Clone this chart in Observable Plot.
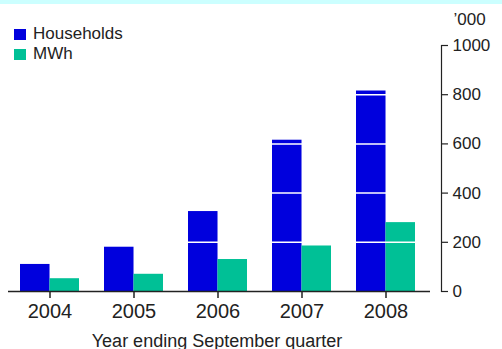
<!DOCTYPE html>
<html>
<head>
<meta charset="utf-8">
<script src="https://cdn.jsdelivr.net/npm/d3@7"></script>
<script src="https://cdn.jsdelivr.net/npm/@observablehq/plot@0.6"></script>
<style>
  html, body { margin: 0; padding: 0; background: white; }
  #chart { position: relative; width: 502px; height: 349px; border-top: 4px solid #ccffff; box-sizing: border-box; }
  #chart svg { display: block; }
  #legend { position: absolute; left: 14px; top: 20px; font: 17px "Liberation Sans", Arial, sans-serif; color: #222; line-height: 20px; }
  #legend .item { display: flex; align-items: center; }
  #legend .sw { width: 12px; height: 11px; margin-right: 7px; }
</style>
</head>
<body>
<div id="chart"><div id="legend"></div></div>
<script>
// Year ending September quarter
const years = ["2004", "2005", "2006", "2007", "2008"];
// thousands of households
const households = [110, 180, 325, 615, 815];
// thousands of MWh
const mwh = [52, 70, 130, 185, 280];
const seriesNames = ["Households", "MWh"];
const seriesColors = ["#0000dd", "#00c096"];
const yTicks = [0, 200, 400, 600, 800, 1000];
const gridValues = [200, 400, 600, 800];

const font = '"Liberation Sans", Arial, sans-serif';

const W = 502, H = 345;
const margin = {top: 41, right: 61, bottom: 58, left: 8};
const xOptions = {type: "band", domain: years, paddingInner: 0.3, paddingOuter: 0.22, align: 0.32};

// each year's band holds the two bars side by side
const band = Plot.scale({x: {...xOptions, range: [margin.left, W - margin.right]}}).bandwidth;
const half = band / 2;
const axisGap = 11;

const hh = years.map((year, i) => ({year, value: households[i]}));
const mw = years.map((year, i) => ({year, value: mwh[i]}));

const chart = Plot.plot({
  width: W,
  height: H,
  marginTop: margin.top,
  marginBottom: margin.bottom,
  marginLeft: margin.left,
  marginRight: margin.right,
  style: {fontFamily: font, color: "#222", background: "white", overflow: "visible"},
  x: {...xOptions, axis: null},
  y: {domain: [0, 1000], axis: null},
  marks: [
    Plot.barY(hh, {x: "year", y: "value", fill: seriesColors[0], insetRight: half}),
    Plot.barY(mw, {x: "year", y: "value", fill: seriesColors[1], insetLeft: half}),
    Plot.ruleY(gridValues, {stroke: "white", strokeWidth: 1.5, insetRight: axisGap}),
    Plot.ruleY([0], {insetRight: axisGap, stroke: "#222", strokeWidth: 1.5}),
    Plot.frame({anchor: "right", stroke: "#222", strokeWidth: 1.2}),
    Plot.axisY(yTicks, {anchor: "right", tickSize: 6, tickPadding: 5, tickFormat: d3.format("d"), label: null, fontSize: 17, strokeWidth: 1.2}),
    Plot.axisX({anchor: "bottom", tickSize: 7, tickPadding: 5, fontSize: 20, label: null, strokeWidth: 1.5}),
    Plot.text(["Year ending September quarter"], {frameAnchor: "bottom", dx: -8, dy: 55, fontSize: 18, fill: "#222"}),
    Plot.text(["\u2019000"], {frameAnchor: "top-right", dx: 12, dy: -33, textAnchor: "start", fontSize: 17, fill: "#222"})
  ]
});

document.getElementById("chart").appendChild(chart);

const legend = document.getElementById("legend");
seriesNames.forEach((name, i) => {
  const item = document.createElement("div");
  item.className = "item";
  const sw = document.createElement("span");
  sw.className = "sw";
  sw.style.background = seriesColors[i];
  const label = document.createElement("span");
  label.textContent = name;
  item.append(sw, label);
  legend.appendChild(item);
});
</script>
</body>
</html>
